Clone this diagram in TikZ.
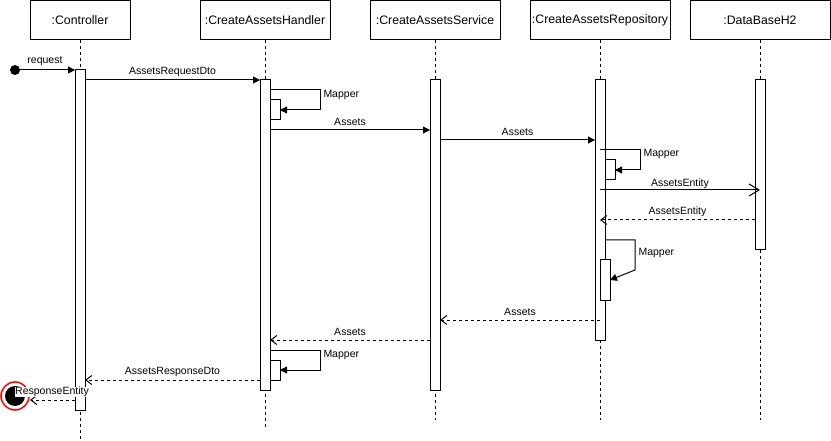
\documentclass[tikz,border=0pt]{standalone}
\usepackage{fontspec}
\setmainfont{Liberation Sans}
\usetikzlibrary{arrows.meta}
\begin{document}
\begin{tikzpicture}[x=1pt,y=-1pt,line width=1pt,
  hdr/.style={draw, fill=white, inner sep=0pt, outer sep=0pt, minimum height=39pt, font=\fontsize{12.3}{14}\selectfont},
  act/.style={draw, fill=white, inner sep=0pt, outer sep=0pt, minimum width=10pt},
  life/.style={dash pattern=on 3pt off 3pt},
  msg/.style={-{Triangle[length=7pt,width=7pt]}},
  ret/.style={dash pattern=on 3pt off 3pt, -{Straight Barb[length=6pt,width=9pt]}},
  opn/.style={-{Straight Barb[length=10pt,width=12pt]}},
  lbl/.style={font=\fontsize{10.5}{12}\selectfont, inner sep=0pt, yshift=8.5pt},
  mlbl/.style={font=\fontsize{10.5}{12}\selectfont, inner sep=0pt, anchor=west}]
\useasboundingbox (0,0) rectangle (831,441);
% headers
\node[hdr, minimum width=100pt] (ctrl) at (80,20.5) {:Controller};
\node[hdr, minimum width=130pt] (hand) at (265,20.5) {:CreateAssetsHandler};
\node[hdr, minimum width=130pt] (serv) at (435,20.5) {:CreateAssetsService};
\node[hdr, minimum width=140pt] (repo) at (600,20.5) {:CreateAssetsRepository};
\node[hdr, minimum width=140pt] (db) at (760,20.5) {:DataBaseH2};
% lifelines
\coordinate (ctrlend) at (80,441);
\coordinate (handend) at (265,427);
\coordinate (servend) at (435,420);
\coordinate (repoend) at (600,420);
\coordinate (dbend) at (760,420);
\draw[life] (ctrl.south) -- (ctrlend);
\draw[life] (hand.south) -- (handend);
\draw[life] (serv.south) -- (servend);
\draw[life] (repo.south) -- (repoend);
\draw[life] (db.south) -- (dbend);
% activations
\node[act, minimum height=340pt] (ca) at (80,240) {};
\node[act, minimum height=310pt] (ha) at (265,235) {};
\node[act, minimum height=310pt] (sa) at (435,235) {};
\node[act, minimum height=260pt] (ra) at (600,210) {};
\node[act, minimum height=170pt] (da) at (760,165) {};
\node[act, minimum height=20pt] (h1) at (275,110) {};
\node[act, minimum height=20pt] (r1) at (610,170) {};
\node[act, minimum height=40pt] (r2) at (605,280) {};
\node[act, minimum height=20pt] (h2) at (275,370) {};
% start / end
\fill (15,70) circle (5pt) coordinate (start);
\draw[red, line width=1.5pt] (15,396) circle (14pt);
\fill (15,396) circle (10pt);
\coordinate (endpt) at (30,400);
% messages
\draw[msg] (start) -- (ca.west |- start) node[lbl, midway] {request};
\draw[msg] (ca.east |- 0,80) -- (ha.west |- 0,80) node[lbl, midway] {AssetsRequestDto};
\draw[msg] (ha.east |- 0,90) -- ++(50,0) -- ++(0,20) -- (h1.east);
\node[mlbl] (m1) at (323,95) {Mapper};
\draw[msg] (ha.east |- 0,130) -- (sa.west |- 0,130) node[lbl, midway] {Assets};
\draw[msg] (sa.east |- 0,140) -- (ra.west |- 0,140) node[lbl, midway] {Assets};
\draw[msg] (ra.center |- 0,150) -- (640,150) -- (640,170) -- (r1.east);
\node[mlbl] (m2) at (643,154) {Mapper};
\draw[opn] (ra.center |- 0,190) -- (da.center |- 0,190) node[lbl, midway, yshift=-2.5pt] {AssetsEntity};
\draw[ret] (da.west |- 0,220) -- (ra.center |- 0,220) node[lbl, midway] {AssetsEntity};
\draw[msg] (ra.east |- 0,240) -- (635,240) -- (635,270) -- (r2.east);
\node[mlbl] (m3) at (638,253) {Mapper};
\draw[ret] (ra.center |- 0,320) -- (sa.east |- 0,320) node[lbl, midway] {Assets};
\draw[ret] (sa.west |- 0,340) -- (ha.east |- 0,340) node[lbl, midway] {Assets};
\draw[msg] (ha.east |- 0,350) -- ++(50,0) -- ++(0,20) -- (h2.east);
\node[mlbl] (m4) at (323,355) {Mapper};
\draw[ret] (ha.west |- 0,380) -- (ca.east |- 0,380) node[lbl, midway] {AssetsResponseDto};
\draw[ret] (ca.west |- 0,400) -- (endpt);
\node[font=\fontsize{10.5}{12}\selectfont, fill=white, inner sep=0.5pt] (relbl) at (52,392) {ResponseEntity};
\end{tikzpicture}
\end{document}
